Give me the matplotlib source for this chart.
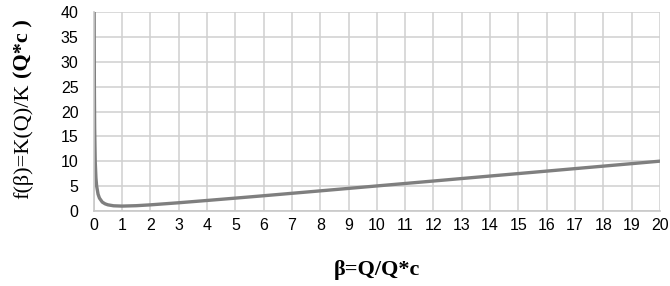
import matplotlib
matplotlib.use("Agg")
import matplotlib.pyplot as plt

# valores
beta = [0.0125, 0.015, 0.02, 0.03, 0.05, 0.075, 0.1, 0.15, 0.2, 0.3, 0.4, 0.5,
        0.7, 1, 1.5, 2, 3, 4, 5, 6, 8, 10, 12, 14, 16, 18, 20]
f_beta = [40, 33.3, 25, 16.7, 10, 6.7, 5.05, 3.4, 2.6, 1.8, 1.45, 1.25,
          1.06, 1.0, 1.08, 1.25, 1.67, 2.13, 2.6, 3.08, 4.06, 5.05, 6.04,
          7.04, 8.03, 9.03, 10.03]
xticks = list(range(0, 21))
yticks = list(range(0, 41, 5))

fig = plt.figure(figsize=(6.7, 2.86), dpi=100)
ax = fig.add_axes([0.140, 0.262, 0.845, 0.696])

ax.plot(beta, f_beta, color="#7f7f7f", lw=2.4, solid_capstyle="round")

ax.set_xlim(0, 20)
ax.set_ylim(0, 40)
ax.set_xticks(xticks)
ax.set_yticks(yticks)
ax.grid(True, color="#d0d0d0", lw=1.1)
ax.set_axisbelow(True)
ax.tick_params(length=0, labelsize=11.5, labelcolor="#000000")
ax.tick_params(axis="y", pad=11)
ax.tick_params(axis="x", pad=5)
for lab in ax.get_xticklabels() + ax.get_yticklabels():
    lab.set_family("Liberation Sans")
for s in ["top", "right"]:
    ax.spines[s].set_visible(False)
for s in ["left", "bottom"]:
    ax.spines[s].set_color("#c8c8c8")
    ax.spines[s].set_linewidth(1.2)

# etiquetas de ejes
fig.text(0.563, 0.055, "β=Q/Q*c", family="Liberation Serif", weight="bold",
         fontsize=16, ha="center", va="center")
fig.text(0.035, 0.305, "f(β)=K(Q)/K", family="Liberation Serif",
         fontsize=16, rotation=90, ha="center", va="bottom")
fig.text(0.035, 0.728, "(Q*c )", family="Liberation Serif", weight="bold",
         fontsize=16, rotation=90, ha="center", va="bottom")

fig.savefig("out.png", dpi=100)
